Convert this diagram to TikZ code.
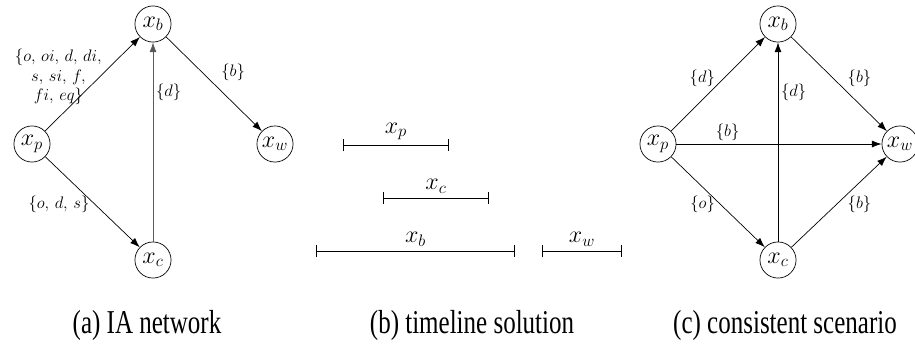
\documentclass[tikz,border=0pt]{standalone}
\usepackage{fontspec}
\newfontfamily\capfont[FakeStretch=0.75]{Liberation Serif}
\usepackage{amsmath}
\usetikzlibrary{arrows.meta, positioning}

\begin{document}
\begin{tikzpicture}[
  x=0.72pt, y=-0.72pt,
  line width=0.5pt,
  state/.style={circle, draw, minimum size=26pt, inner sep=0pt, font=\LARGE},
  arrow/.style={-{Latex[length=7pt, width=5pt]}},
  lbl/.style={font=\large, inner sep=2pt},
  interval/.style={{Bar[width=9pt]}-{Bar[width=9pt]}},
  caption/.style={font=\capfont\fontsize{24}{28}\selectfont, anchor=base},
]
\useasboundingbox (0,0) rectangle (915,343);

% Panel (a) -- IA network
\node[state] (pa) at (32,144)  {$x_p$};
\node[state] (ba) at (153,24)  {$x_b$};
\node[state] (wa) at (275,144) {$x_w$};
\node[state] (ca) at (153,260) {$x_c$};

\draw[arrow] (pa) -- (ba)
  node[lbl, midway, left, align=center, xshift=9pt, yshift=5pt]
  {$\{o,\, oi,\, d,\, di,$\\ $s,\, si,\, f,$\\ $fi,\, eq\}$};
\draw[arrow] (pa) -- (ca) node[lbl, midway, left, yshift=-2pt] {$\{o,\, d,\, s\}$};
\draw[arrow, black!65] (ca) -- (ba) node[lbl, pos=0.75, right, text=black] {$\{d\}$};
\draw[arrow] (ba) -- (wa) node[lbl, midway, above right, xshift=3pt] {$\{b\}$};

% Panel (b) -- timeline solution
\draw[interval] (343,145) -- node[above, font=\LARGE] (tp) {$x_p$} (449,145);
\draw[interval] (383,198) -- node[above, font=\LARGE] (tc) {$x_c$} (489,198);
\draw[interval] (316,251) -- node[above, font=\LARGE] (tb) {$x_b$} (515,251);
\draw[interval] (542,251) -- node[above, font=\LARGE] (tw) {$x_w$} (622,251);

% Panel (c) -- consistent scenario
\node[state] (pc) at (658,144) {$x_p$};
\node[state] (bc) at (778,24)  {$x_b$};
\node[state] (wc) at (900,144) {$x_w$};
\node[state] (cc) at (778,260) {$x_c$};

\draw[arrow] (pc) -- (bc) node[lbl, midway, left, yshift=4pt] {$\{d\}$};
\draw[arrow] (bc) -- (wc) node[lbl, midway, right, xshift=4pt, yshift=4pt] {$\{b\}$};
\draw[arrow] (cc) -- (bc) node[lbl, pos=0.75, right] {$\{d\}$};
\draw[arrow] (pc) -- (wc) node[lbl, pos=0.25, above] {$\{b\}$};
\draw[arrow] (pc) -- (cc) node[lbl, midway, left, yshift=-2pt] {$\{o\}$};
\draw[arrow] (cc) -- (wc) node[lbl, midway, right, xshift=4pt, yshift=-2pt] {$\{b\}$};

% Captions
\node[caption] (capa) at (147,333) {(a) IA network};
\node[caption] (capb) at (472,333) {(b) timeline solution};
\node[caption] (capc) at (785,333) {(c) consistent scenario};

\end{tikzpicture}
\end{document}
